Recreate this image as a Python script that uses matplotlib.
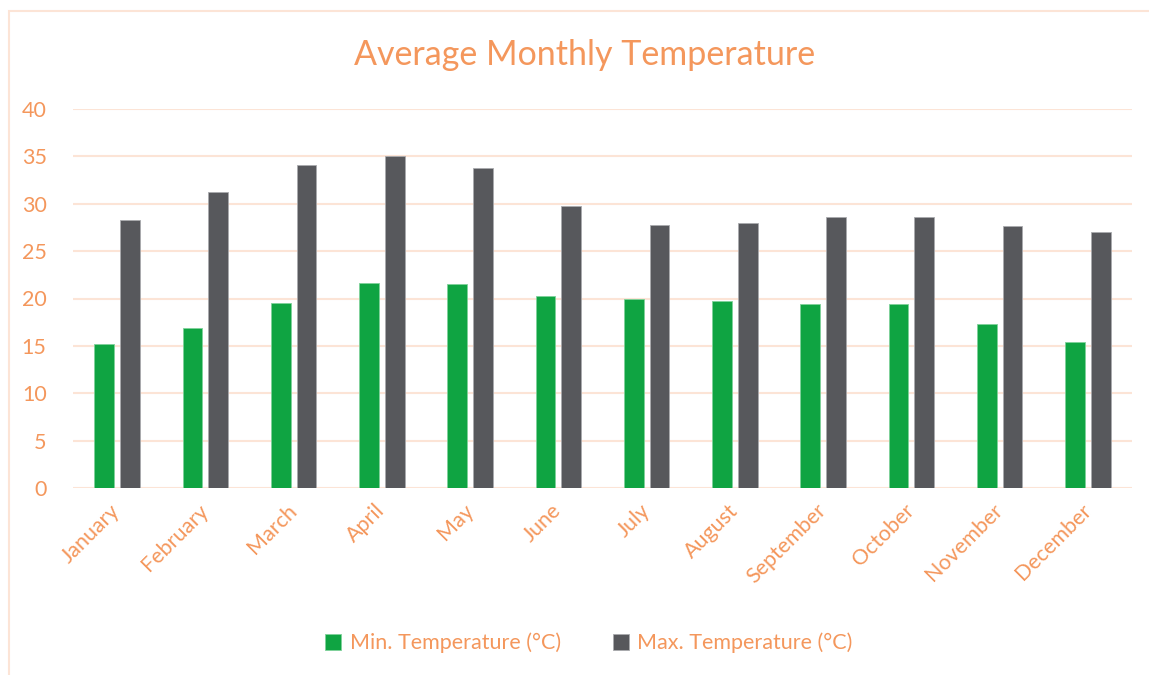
import matplotlib.pyplot as plt
import matplotlib.patches as patches
import numpy as np

months = ["January", "February", "March", "April", "May", "June", "July",
          "August", "September", "October", "November", "December"]
min_temp = [15.2, 16.9, 19.5, 21.6, 21.5, 20.3, 19.9, 19.7, 19.4, 19.4, 17.3, 15.4]
max_temp = [28.3, 31.2, 34.1, 35.0, 33.8, 29.8, 27.8, 28.0, 28.6, 28.6, 27.6, 27.0]
y_ticks = [0, 5, 10, 15, 20, 25, 30, 35, 40]

orange = "#F4975C"
grid_col = "#FCE4D6"
green = "#0FA442"
grey = "#57585C"

plt.rcParams['font.family'] = ['Lato', 'DejaVu Sans']

fig = plt.figure(figsize=(11.49, 6.75), dpi=100)
ax = fig.add_axes([73 / 1149, 1 - 488 / 675, (1132 - 73) / 1149, (488 - 109) / 675])

# outer chart border
fig.patches.append(patches.Rectangle((8.5 / 1149, -0.05), 1.2, 1 - 10.5 / 675 + 0.05,
                                     transform=fig.transFigure, fill=False,
                                     edgecolor=grid_col, linewidth=1.5))

x = np.arange(len(months))
w = 0.223
off = 0.145
ax.bar(x - off, min_temp, w, color=green, edgecolor="#7fd19b", linewidth=0.6,
       label="Min. Temperature (°C)", zorder=3)
ax.bar(x + off, max_temp, w, color=grey, edgecolor="#a9aaad", linewidth=0.6,
       label="Max. Temperature (°C)", zorder=3)

ax.set_xlim(-0.5, len(months) - 0.5)
ax.set_ylim(0, 40)
ax.set_yticks(y_ticks)
ax.yaxis.grid(True, color=grid_col, linewidth=1.5, zorder=0)
ax.set_axisbelow(True)
for s in ax.spines.values():
    s.set_visible(False)
ax.tick_params(axis='both', length=0, labelcolor=orange, labelsize=15.5)
ax.tick_params(axis='y', pad=19)
ax.set_xticks(x)
ax.set_xticklabels(months, rotation=45, ha='right', va='center', rotation_mode='anchor')
ax.tick_params(axis='x', pad=14)

fig.text(585 / 1149, 1 - 55 / 675, "Average Monthly Temperature", color=orange,
         fontsize=24.5, ha='center', va='center')

fig.legend(loc='center', bbox_to_anchor=(589 / 1149, 1 - 643 / 675), ncol=2,
           frameon=False, fontsize=15.5, labelcolor=orange, handlelength=0.75,
           handleheight=0.75, handletextpad=0.4, columnspacing=2.4)

fig.savefig("out.png", dpi=100, facecolor="white")
